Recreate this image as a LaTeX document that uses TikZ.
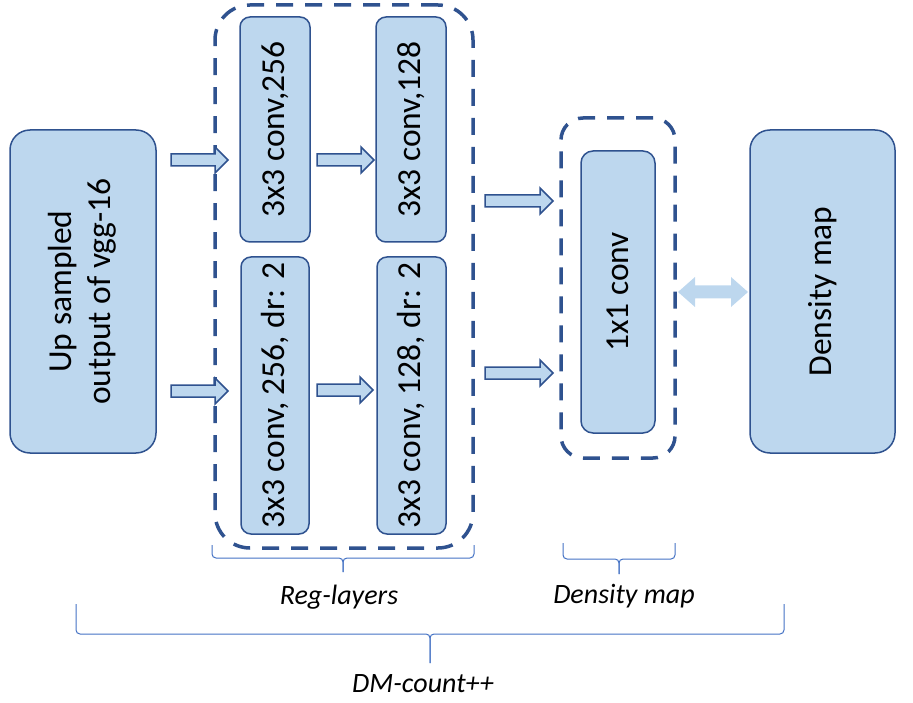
\documentclass[tikz,border=0pt]{standalone}
\usepackage{fontspec}
\setmainfont{Carlito}
\usetikzlibrary{calc}
\definecolor{boxfill}{HTML}{BDD7EE}
\definecolor{boxline}{HTML}{2F528F}
\definecolor{braceline}{HTML}{4472C4}
\begin{document}
\begin{tikzpicture}[x=1pt,y=-1pt,
  block/.style={draw=boxline,fill=boxfill,line width=1.5pt,inner sep=0pt,
    font=\fontsize{33.5}{40}\selectfont},
  group/.style={draw=boxline,line width=3.5pt,dash pattern=on 17pt off 12pt,inner sep=0pt},
  label/.style={font=\fontsize{28}{34}\selectfont\itshape,inner sep=0pt},
  bracepath/.style={draw=braceline,line width=1pt,rounded corners=4pt},
  arrowline/.style={draw=boxline,fill=boxfill,line width=1.5pt,line join=miter},
  pics/barrow/.style={code={
    \draw[arrowline] (0,-6) -- ({#1-13},-6) -- ({#1-13},-13) -- (#1,0)
      -- ({#1-13},13) -- ({#1-13},6) -- (0,6) -- cycle;}}
]
\useasboundingbox (0,0) rectangle (913,703);

% input and output blocks
\node[block,rounded corners=20pt,minimum width=146pt,minimum height=323pt] (up) at (83,291.5)
  {\rotatebox{90}{\begin{tabular}{@{}c@{}}Up sampled\\output of vgg-16\end{tabular}}};
\node[block,rounded corners=20pt,minimum width=145pt,minimum height=323pt] (dm) at (822.5,291.5)
  {\rotatebox{90}{Density map}};

% regression layers
\node[group,rounded corners=35pt,minimum width=258pt,minimum height=543pt] (reg) at (344,276.5) {};
\node[block,rounded corners=10pt,minimum width=70pt,minimum height=225pt] (c1) at (275,129.5)
  {\rotatebox{90}{3x3 conv,256}};
\node[block,rounded corners=10pt,minimum width=70pt,minimum height=225pt] (c2) at (411,129.5)
  {\rotatebox{90}{3x3 conv,128}};
\node[block,rounded corners=10pt,minimum width=68pt,minimum height=277pt] (c3) at (275,395.5)
  {\rotatebox{90}{3x3 conv, 256, dr: 2}};
\node[block,rounded corners=10pt,minimum width=69pt,minimum height=277pt] (c4) at (411.5,395.5)
  {\rotatebox{90}{3x3 conv, 128, dr: 2}};

% density map head
\node[group,rounded corners=22pt,minimum width=114pt,minimum height=340pt] (dens) at (618,288) {};
\node[block,rounded corners=12pt,minimum width=74pt,minimum height=282pt] (one) at (618,292)
  {\rotatebox{90}{1x1 conv}};

% block arrows
\pic at (171,160) {barrow=57};
\pic at (317,160) {barrow=57};
\pic at (171,391) {barrow=57};
\pic at (317,390) {barrow=56};
\pic at (485,201) {barrow=68};
\pic at (485,373) {barrow=68};

% two-way arrow between the head and the density map
\fill[boxfill] (678,292) -- (695,277) -- (695,285.5) -- (731,285.5) -- (731,277)
  -- (748,292) -- (731,307) -- (731,298.5) -- (695,298.5) -- (695,307) -- cycle;

% braces
\draw[bracepath] (212,545) -- (212,558) -- (343,558) -- (343,572);
\draw[bracepath] (474,545) -- (474,558) -- (343,558) -- (343,572);
\draw[bracepath] (563,543) -- (563,559) -- (619,559) -- (619,574);
\draw[bracepath] (675,543) -- (675,559) -- (619,559) -- (619,574);
\draw[bracepath] (76,604) -- (76,634) -- (430,634) -- (430,663);
\draw[bracepath] (784,604) -- (784,634) -- (430,634) -- (430,663);

\node[label] (lreg) at (339,597) {Reg-layers};
\node[label] (lden) at (624,596) {Density map};
\node[label] (lall) at (423,684) {DM-count++};
\end{tikzpicture}
\end{document}
